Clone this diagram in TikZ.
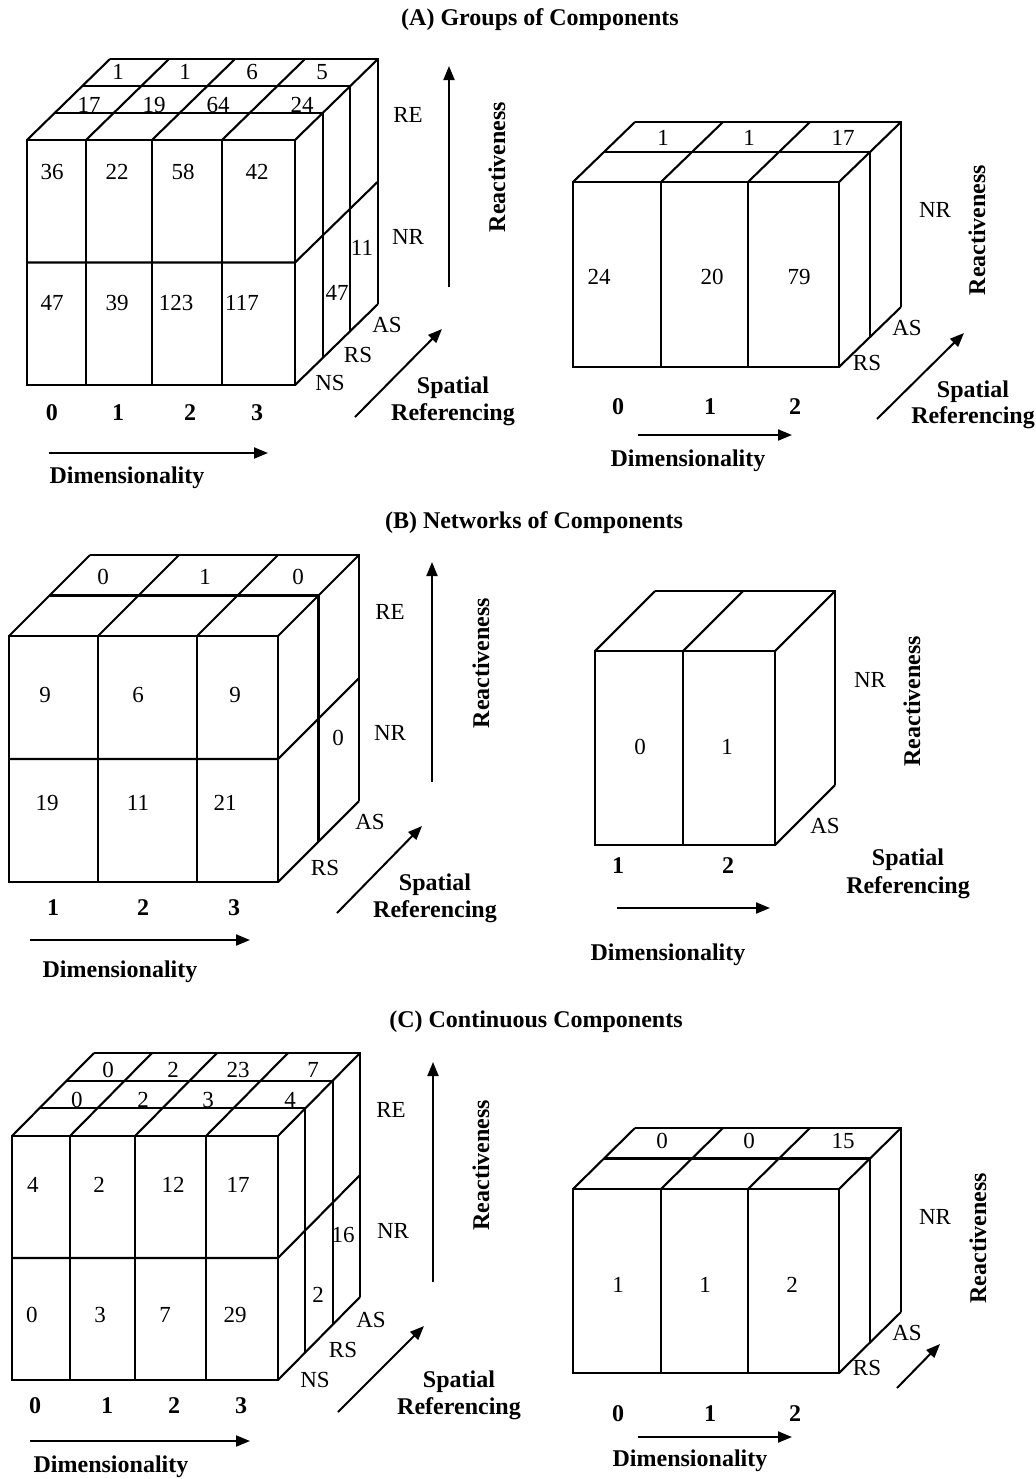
\documentclass[tikz,border=0pt]{standalone}
\usepackage{fontspec}
\setmainfont{Liberation Serif}
\usetikzlibrary{arrows.meta}
\tikzset{
  cubeline/.style={line width=1.05pt},
  num/.style={font=\fontsize{11.5}{13}\selectfont, inner sep=0pt},
  bl/.style={font=\fontsize{12}{14}\selectfont\bfseries, inner sep=0pt},
  axis/.style={line width=1pt, -{Triangle[length=7pt,width=5.5pt]}},
}
% #1 x0, #2 y0, #3 W, #4 H, #5 divider list, #6 depth layers, #7 dx, #8 dy, #9 mid line
\newcommand\drawcube[9]{%
 \begin{scope}[shift={(#1,#2)}]
  \draw[cubeline] (0,0) rectangle (#3,#4);
  \foreach \d in {0,#5,#3} {\draw[cubeline] (\d,0) -- ++(#7,#8);}
  \foreach \d in {#5} {\draw[cubeline] (\d,0) -- (\d,#4);}
  \foreach \k in {1,...,#6} {\draw[cubeline] ({#7*\k/#6},{#8*\k/#6}) -- ++(#3,0) -- ++(0,#4);}
  \draw[cubeline] (#3,#4) -- ++(#7,#8);
  \ifnum#9=1 \draw[cubeline] (0,{#4/2}) -- (#3,{#4/2}) -- ++(#7,#8);\fi
 \end{scope}}
\begin{document}
\begin{tikzpicture}[x=0.5pt,y=-0.5pt]
\useasboundingbox (0,0) rectangle (1036,1479);
\fill[white] (0,0) rectangle (1036,1479);

% ================= (A) =================
\node[bl] (tA) at (540,20) {(A) Groups of Components};
\drawcube{27}{140}{268}{245}{59,125,195}{3}{83}{-81}{1}
\node[num] (a1) at (118,72) {1};
\node[num] (a2) at (185,72) {1};
\node[num] (a3) at (252,72) {6};
\node[num] (a4) at (322,72) {5};
\node[num] (a5) at (89,105) {17};
\node[num] (a6) at (154,105) {19};
\node[num] (a7) at (218,105) {64};
\node[num] (a8) at (302,105) {24};
\node[num] (a9) at (52,172) {36};
\node[num] (a10) at (117,172) {22};
\node[num] (a11) at (183,172) {58};
\node[num] (a12) at (257,172) {42};
\node[num] (a13) at (52,303) {47};
\node[num] (a14) at (117,303) {39};
\node[num] (a15) at (176,303) {123};
\node[num] (a16) at (242,303) {117};
\node[num] (a17) at (362,248) {11};
\node[num] (a18) at (337,293) {47};
\node[num] (aRE) at (408,115) {RE};
\node[num] (aNR) at (408,237) {NR};
\node[num] (aAS) at (387,325) {AS};
\node[num] (aRS) at (358,355) {RS};
\node[num] (aNS) at (330,383) {NS};
\coordinate (aR0) at (449,287); \coordinate (aR1) at (449,66);
\draw[axis] (aR0) -- (aR1);
\node[bl,rotate=90] (aReact) at (497,167) {Reactiveness};
\coordinate (aS0) at (355,417); \coordinate (aS1) at (442,329);
\draw[axis] (aS0) -- (aS1);
\node[bl] (aSp) at (453,388) {Spatial};
\node[bl] (aRef) at (453,415) {Referencing};
\node[bl] (ad0) at (52,413) {0};
\node[bl] (ad1) at (118,413) {1};
\node[bl] (ad2) at (190,413) {2};
\node[bl] (ad3) at (257,413) {3};
\coordinate (aD0) at (49,453); \coordinate (aD1) at (268,453);
\draw[axis] (aD0) -- (aD1);
\node[bl] (aDim) at (127,478) {Dimensionality};

\drawcube{573}{182}{266}{185}{88,175}{2}{62}{-60}{0}
\node[num] (b1) at (663,138) {1};
\node[num] (b2) at (749,138) {1};
\node[num] (b3) at (843,138) {17};
\node[num] (b4) at (599,277) {24};
\node[num] (b5) at (712,277) {20};
\node[num] (b6) at (799,277) {79};
\node[num] (bNR) at (935,210) {NR};
\node[num] (bAS) at (907,328) {AS};
\node[num] (bRS) at (867,363) {RS};
\node[bl,rotate=90] (bReact) at (977,230) {Reactiveness};
\coordinate (bS0) at (877,419); \coordinate (bS1) at (964,333);
\draw[axis] (bS0) -- (bS1);
\node[bl] (bSp) at (973,392) {Spatial};
\node[bl] (bRef) at (973,418) {Referencing};
\node[bl] (bd0) at (618,407) {0};
\node[bl] (bd1) at (710,407) {1};
\node[bl] (bd2) at (795,407) {2};
\coordinate (bD0) at (638,435); \coordinate (bD1) at (792,435);
\draw[axis] (bD0) -- (bD1);
\node[bl] (bDim) at (688,461) {Dimensionality};

% ================= (B) =================
\node[bl] (tB) at (534,523) {(B) Networks of Components};
\drawcube{9}{636}{269}{246}{89,188}{2}{81}{-81}{1}
\node[num] (c1) at (103,577) {0};
\node[num] (c2) at (205,577) {1};
\node[num] (c3) at (298,577) {0};
\node[num] (c4) at (45,695) {9};
\node[num] (c5) at (138,695) {6};
\node[num] (c6) at (235,695) {9};
\node[num] (c7) at (47,803) {19};
\node[num] (c8) at (138,803) {11};
\node[num] (c9) at (225,803) {21};
\node[num] (c10) at (338,738) {0};
\node[num] (cRE) at (390,612) {RE};
\node[num] (cNR) at (390,733) {NR};
\node[num] (cAS) at (370,822) {AS};
\node[num] (cRS) at (325,868) {RS};
\coordinate (cR0) at (432,782); \coordinate (cR1) at (432,562);
\draw[axis] (cR0) -- (cR1);
\node[bl,rotate=90] (cReact) at (481,663) {Reactiveness};
\coordinate (cS0) at (337,913); \coordinate (cS1) at (422,826);
\draw[axis] (cS0) -- (cS1);
\node[bl] (cSp) at (435,885) {Spatial};
\node[bl] (cRef) at (435,912) {Referencing};
\node[bl] (cd1) at (53,908) {1};
\node[bl] (cd2) at (143,908) {2};
\node[bl] (cd3) at (234,908) {3};
\coordinate (cD0) at (30,940); \coordinate (cD1) at (250,940);
\draw[axis] (cD0) -- (cD1);
\node[bl] (cDim) at (120,972) {Dimensionality};

\drawcube{595}{651}{180}{194}{88}{1}{60}{-60}{0}
\node[num] (d1) at (640,747) {0};
\node[num] (d2) at (727,747) {1};
\node[num] (dNR) at (870,680) {NR};
\node[num] (dAS) at (825,826) {AS};
\node[bl,rotate=90] (dReact) at (912,701) {Reactiveness};
\node[bl] (dSp) at (908,860) {Spatial};
\node[bl] (dRef) at (908,888) {Referencing};
\node[bl] (dd1) at (618,866) {1};
\node[bl] (dd2) at (728,866) {2};
\coordinate (dD0) at (617,908); \coordinate (dD1) at (770,908);
\draw[axis] (dD0) -- (dD1);
\node[bl] (dDim) at (668,955) {Dimensionality};

% ================= (C) =================
\node[bl] (tC) at (536,1022) {(C) Continuous Components};
\drawcube{12}{1136}{266}{244}{58,123,194}{3}{82}{-83}{1}
\node[num] (e1) at (108,1070) {0};
\node[num] (e2) at (173,1070) {2};
\node[num] (e3) at (238,1070) {23};
\node[num] (e4) at (313,1070) {7};
\node[num] (e5) at (77,1100) {0};
\node[num] (e6) at (143,1100) {2};
\node[num] (e7) at (208,1100) {3};
\node[num] (e8) at (290,1100) {4};
\node[num] (e9) at (33,1185) {4};
\node[num] (e10) at (99,1185) {2};
\node[num] (e11) at (173,1185) {12};
\node[num] (e12) at (238,1185) {17};
\node[num] (e13) at (32,1315) {0};
\node[num] (e14) at (100,1315) {3};
\node[num] (e15) at (165,1315) {7};
\node[num] (e16) at (235,1315) {29};
\node[num] (e17) at (343,1235) {16};
\node[num] (e18) at (318,1295) {2};
\node[num] (eRE) at (391,1110) {RE};
\node[num] (eNR) at (393,1231) {NR};
\node[num] (eAS) at (371,1320) {AS};
\node[num] (eRS) at (343,1350) {RS};
\node[num] (eNS) at (315,1380) {NS};
\coordinate (eR0) at (433,1282); \coordinate (eR1) at (433,1062);
\draw[axis] (eR0) -- (eR1);
\node[bl,rotate=90] (eReact) at (481,1165) {Reactiveness};
\coordinate (eS0) at (338,1412); \coordinate (eS1) at (424,1326);
\draw[axis] (eS0) -- (eS1);
\node[bl] (eSp) at (459,1382) {Spatial};
\node[bl] (eRef) at (459,1409) {Referencing};
\node[bl] (ed0) at (35,1406) {0};
\node[bl] (ed1) at (107,1406) {1};
\node[bl] (ed2) at (174,1406) {2};
\node[bl] (ed3) at (241,1406) {3};
\coordinate (eD0) at (30,1441); \coordinate (eD1) at (250,1441);
\draw[axis] (eD0) -- (eD1);
\node[bl] (eDim) at (111,1467) {Dimensionality};

\drawcube{573}{1189}{266}{184}{88,175}{2}{62}{-61}{0}
\node[num] (f1) at (662,1141) {0};
\node[num] (f2) at (749,1141) {0};
\node[num] (f3) at (843,1141) {15};
\node[num] (f4) at (618,1285) {1};
\node[num] (f5) at (705,1285) {1};
\node[num] (f6) at (792,1285) {2};
\node[num] (fNR) at (935,1217) {NR};
\node[num] (fAS) at (907,1333) {AS};
\node[num] (fRS) at (867,1368) {RS};
\node[bl,rotate=90] (fReact) at (978,1238) {Reactiveness};
\coordinate (fS0) at (897,1388); \coordinate (fS1) at (940,1344);
\draw[axis] (fS0) -- (fS1);
\node[bl] (fd0) at (618,1414) {0};
\node[bl] (fd1) at (710,1414) {1};
\node[bl] (fd2) at (795,1414) {2};
\coordinate (fD0) at (638,1437); \coordinate (fD1) at (792,1437);
\draw[axis] (fD0) -- (fD1);
\node[bl] (fDim) at (690,1461) {Dimensionality};
\end{tikzpicture}
\end{document}
